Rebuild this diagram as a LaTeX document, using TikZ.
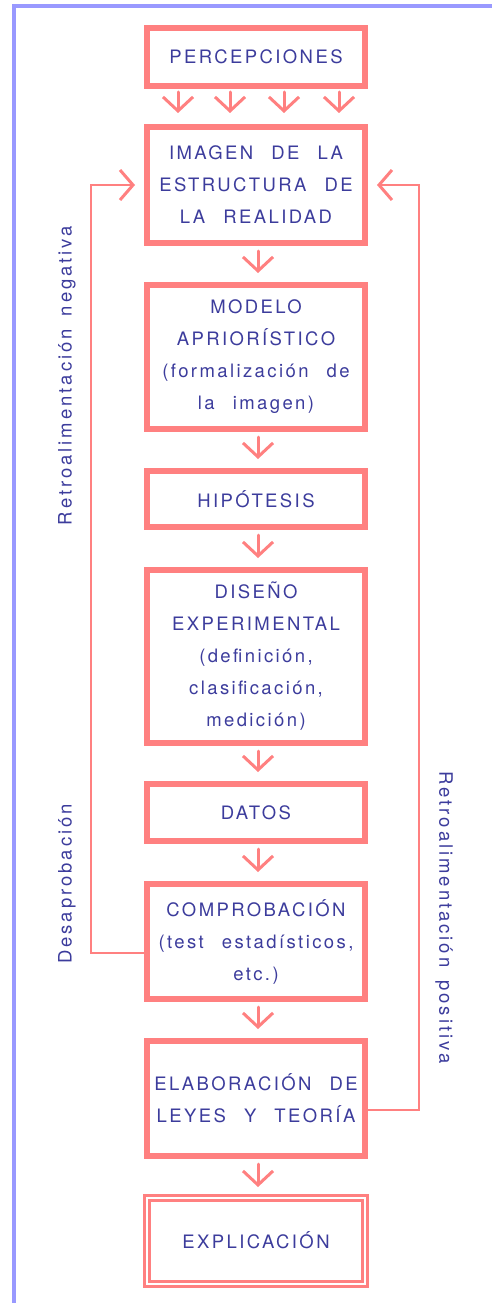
\documentclass[tikz,border=0pt]{standalone}
\usepackage{fontspec}
\setmainfont{TeX Gyre Heros}
\newfontfamily\boxfont[LetterSpace=13,WordSpace=2.4]{TeX Gyre Heros}
\newfontfamily\lblfont[LetterSpace=16,WordSpace=1.6]{TeX Gyre Heros}
\usetikzlibrary{arrows.meta,calc}
\definecolor{salmon}{HTML}{FF8080}
\definecolor{ink}{HTML}{3C3C9C}
\definecolor{framec}{HTML}{9999FF}
\begin{document}
\begin{tikzpicture}[x=1pt,y=-1pt,
  stepbox/.style={draw=salmon, line width=6pt, minimum width=218pt, inner sep=0pt, align=center, text=ink, font=\boxfont\fontsize{18.5}{32}\selectfont},
  endbox/.style={stepbox, line width=3pt, double=white, double distance=2pt},
  flow/.style={draw=salmon, line width=3pt, line cap=round, shorten <=5pt, shorten >=9pt, -{Straight Barb[length=14pt,width=30pt]}},
  fb/.style={draw=salmon, line width=2pt, shorten >=9pt, -{Straight Barb[length=13pt,width=30pt,line width=3pt]}},
  lbl/.style={text=ink, font=\lblfont\fontsize{18.5}{22}\selectfont, inner sep=0pt}
]
\useasboundingbox (0,0) rectangle (492,1303);
\draw[framec, line width=4pt] (14,1303) -- (14,6) -- (492,6);

\node[stepbox, minimum height=58pt] (perc) at (256,57) {PERCEPCIONES};
\node[stepbox, minimum height=116pt] (imagen) at (256,185) {IMAGEN DE LA\\ESTRUCTURA DE\\LA REALIDAD};
\node[stepbox, minimum height=144pt] (modelo) at (256,357) {MODELO\\APRIORÍSTICO\\(formalización de\\la imagen)};
\node[stepbox, minimum height=56pt] (hip) at (256,499) {HIPÓTESIS};
\node[stepbox, minimum height=173pt] (diseno) at (256,656.5) {DISEÑO\\EXPERIMENTAL\\(definición,\\clasificación,\\medición)};
\node[stepbox, minimum height=57pt] (datos) at (256,812.5) {DATOS};
\node[stepbox, minimum height=115pt] (comp) at (256,941.5) {COMPROBACIÓN\\(test estadísticos,\\etc.)};
\node[stepbox, minimum height=115pt] (elab) at (256,1098.5) {ELABORACIÓN DE\\LEYES Y TEORÍA};
\node[endbox, minimum height=86pt] (expl) at (256,1240.5) {EXPLICACIÓN};

\foreach \dx in {-78,-26,28,83}
  \draw[flow, shorten <=3pt, shorten >=11pt] ($(perc.south)+(\dx,0)$) -- ($(imagen.north)+(\dx,0)$);
\draw[flow] ([xshift=2pt]imagen.south) -- ([xshift=2pt]modelo.north);
\draw[flow] ([xshift=2pt]modelo.south) -- ([xshift=2pt]hip.north);
\draw[flow] ([xshift=2pt]hip.south) -- ([xshift=2pt]diseno.north);
\draw[flow] ([xshift=2pt]diseno.south) -- ([xshift=2pt]datos.north);
\draw[flow] ([xshift=2pt]datos.south) -- ([xshift=2pt]comp.north);
\draw[flow] ([xshift=2pt]comp.south) -- ([xshift=2pt]elab.north);
\draw[flow] ([xshift=2pt]elab.south) -- ([xshift=2pt]expl.north);

\draw[fb] ($(comp.west)+(0,11)$) -- ++(-53,0) |- (imagen.west);
\draw[fb] ($(elab.east)+(0,11)$) -- ++(51,0) |- (imagen.east);

\node[lbl, rotate=90] (neg) at (67,375.5) {Retroalimentación negativa};
\node[lbl, rotate=90] (desap) at (67,884) {Desaprobación};
\node[lbl, rotate=-90] (pos) at (444,917.5) {Retroalimentación positiva};
\end{tikzpicture}
\end{document}
